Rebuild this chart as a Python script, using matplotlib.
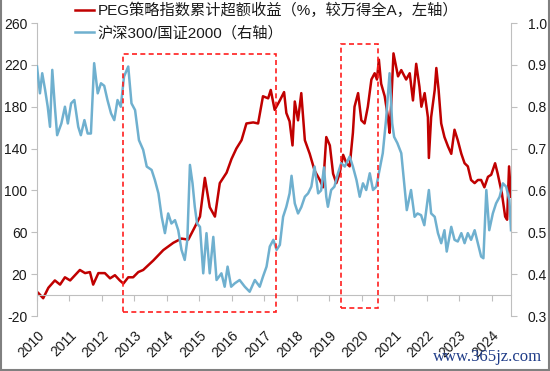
import matplotlib
matplotlib.use('Agg')
import matplotlib.pyplot as plt
from matplotlib.patches import Rectangle
from matplotlib.lines import Line2D

plt.rcParams['font.family'] = ['Liberation Sans', 'Noto Sans CJK SC', 'DejaVu Sans']

# ---------------- data ----------------
red_label = 'PEG策略指数累计超额收益（%，较万得全A，左轴）'
blue_label = '沪深300/国证2000（右轴）'

red_years = [2010.04, 2010.19, 2010.35, 2010.55, 2010.71, 2010.86, 2011.02, 2011.17, 2011.32, 2011.48,
             2011.63, 2011.73, 2011.89, 2012.09, 2012.25, 2012.40, 2012.55, 2012.66, 2012.81, 2012.96,
             2013.12, 2013.27, 2013.58, 2013.89, 2014.20, 2014.45, 2014.66, 2014.86, 2015.02, 2015.17,
             2015.32, 2015.48, 2015.63, 2015.84, 2015.99, 2016.14, 2016.30, 2016.45, 2016.66, 2016.81,
             2016.96, 2017.12, 2017.20, 2017.32, 2017.48, 2017.61, 2017.68, 2017.78, 2017.87, 2017.94,
             2018.04, 2018.14, 2018.25, 2018.40, 2018.55, 2018.71, 2018.81, 2018.91, 2019.02, 2019.12,
             2019.22, 2019.32, 2019.43, 2019.53, 2019.63, 2019.73, 2019.78, 2019.89, 2019.99, 2020.09,
             2020.19, 2020.30, 2020.40, 2020.47, 2020.53, 2020.60, 2020.71, 2020.81, 2020.86, 2020.91,
             2020.98, 2021.12, 2021.22, 2021.37, 2021.48, 2021.58, 2021.68, 2021.78, 2021.84, 2021.94,
             2022.04, 2022.07, 2022.14, 2022.25, 2022.30, 2022.37, 2022.45, 2022.55, 2022.66, 2022.76,
             2022.86, 2022.96, 2023.07, 2023.17, 2023.27, 2023.37, 2023.48, 2023.58, 2023.68, 2023.78,
             2023.89, 2023.99, 2024.11, 2024.19, 2024.32, 2024.42, 2024.48, 2024.54, 2024.60]
red_values = [2, -3, 7, 14, 10, 17, 14, 19, 24, 21,
              22, 10, 21, 21, 16, 19, 14, 11, 17, 17,
              22, 24, 33, 43, 50, 54, 53, 65, 75, 112,
              84, 75, 107, 117, 130, 140, 148, 164, 165, 164,
              190, 188, 196, 177, 186, 194, 174, 166, 143, 185,
              167, 193, 148, 135, 119, 110, 103, 151, 143, 116,
              107, 116, 134, 126, 123, 155, 180, 193, 167, 164,
              180, 206, 212, 206, 225, 202, 190, 170, 155, 183,
              231, 209, 215, 206, 212, 186, 221, 199, 180, 193,
              170, 131, 170, 196, 217, 196, 164, 151, 142, 135,
              158, 148, 135, 126, 123, 110, 107, 110, 110, 103,
              113, 115, 126, 116, 97, 75, 72, 123, 94]

blue_years = [2010.00, 2010.09, 2010.16, 2010.25, 2010.33, 2010.40, 2010.47, 2010.55, 2010.62, 2010.75,
              2010.86, 2010.95, 2011.05, 2011.15, 2011.27, 2011.35, 2011.46, 2011.56, 2011.66, 2011.76,
              2011.87, 2011.97, 2012.07, 2012.17, 2012.28, 2012.38, 2012.48, 2012.58, 2012.68, 2012.81,
              2012.91, 2013.02, 2013.14, 2013.27, 2013.38, 2013.53, 2013.63, 2013.74, 2013.84, 2013.94,
              2014.04, 2014.14, 2014.25, 2014.35, 2014.45, 2014.55, 2014.63, 2014.71, 2014.79, 2014.86,
              2014.93, 2015.02, 2015.12, 2015.22, 2015.32, 2015.43, 2015.53, 2015.68, 2015.78, 2015.87,
              2015.98, 2016.09, 2016.24, 2016.40, 2016.55, 2016.71, 2016.86, 2016.96, 2017.07, 2017.17,
              2017.28, 2017.38, 2017.48, 2017.58, 2017.68, 2017.78, 2017.84, 2017.94, 2018.04, 2018.14,
              2018.25, 2018.35, 2018.45, 2018.55, 2018.66, 2018.75, 2018.84, 2018.91, 2018.96, 2019.06,
              2019.16, 2019.27, 2019.37, 2019.48, 2019.63, 2019.73, 2019.84, 2019.94, 2020.04, 2020.14,
              2020.25, 2020.35, 2020.45, 2020.55, 2020.65, 2020.75, 2020.86, 2020.94, 2021.00, 2021.10,
              2021.22, 2021.32, 2021.39, 2021.52, 2021.63, 2021.72, 2021.83, 2021.93, 2022.07, 2022.14,
              2022.25, 2022.35, 2022.45, 2022.55, 2022.62, 2022.76, 2022.86, 2022.96, 2023.07, 2023.17,
              2023.27, 2023.37, 2023.48, 2023.58, 2023.68, 2023.75, 2023.84, 2023.93, 2024.04, 2024.14,
              2024.25, 2024.35, 2024.45, 2024.55, 2024.60]
blue_values = [0.896, 0.832, 0.880, 0.840, 0.800, 0.752, 0.888, 0.800, 0.732, 0.760,
               0.800, 0.760, 0.808, 0.816, 0.752, 0.732, 0.768, 0.736, 0.736, 0.904,
               0.832, 0.856, 0.850, 0.816, 0.784, 0.768, 0.816, 0.800, 0.872, 0.896,
               0.808, 0.792, 0.720, 0.697, 0.657, 0.649, 0.625, 0.593, 0.537, 0.498,
               0.545, 0.521, 0.529, 0.505, 0.458, 0.434, 0.482, 0.661, 0.617, 0.561,
               0.521, 0.513, 0.402, 0.498, 0.402, 0.489, 0.386, 0.402, 0.370, 0.418,
               0.370, 0.378, 0.386, 0.370, 0.358, 0.386, 0.370, 0.394, 0.418, 0.466,
               0.482, 0.458, 0.470, 0.537, 0.561, 0.593, 0.635, 0.569, 0.545, 0.560,
               0.585, 0.593, 0.609, 0.657, 0.593, 0.600, 0.655, 0.585, 0.561, 0.601,
               0.609, 0.641, 0.665, 0.657, 0.681, 0.657, 0.625, 0.585, 0.617, 0.601,
               0.641, 0.601, 0.609, 0.649, 0.689, 0.768, 0.880, 0.760, 0.728, 0.713,
               0.689, 0.609, 0.553, 0.601, 0.537, 0.545, 0.541, 0.517, 0.601, 0.545,
               0.537, 0.498, 0.474, 0.505, 0.454, 0.513, 0.482, 0.478, 0.498, 0.474,
               0.498, 0.482, 0.505, 0.474, 0.442, 0.438, 0.601, 0.505, 0.545, 0.569,
               0.585, 0.617, 0.609, 0.577, 0.505]

year_ticks = list(range(2010, 2025))
year_labels = [str(y) for y in year_ticks]
left_ticks = [-20, 20, 60, 100, 140, 180, 220, 260]
left_labels = ['-20', '20', '60', '100', '140', '180', '220', '260']
right_ticks = [0.3, 0.4, 0.5, 0.6, 0.7, 0.8, 0.9, 1.0]
right_labels = ['0.3', '0.4', '0.5', '0.6', '0.7', '0.8', '0.9', '1.0']

# highlighted periods: (x start, x end, y bottom, y top) in left-axis units
box_x0 = [2012.65, 2019.37]
box_x1 = [2017.35, 2020.50]
box_y0 = [-16, -12]
box_y1 = [230, 240]

# ---------------- style ----------------
RED = '#C00000'
BLUE = '#6FB0CF'
GRID = '#BFBFBF'
TXT = '#1a1a1a'

fig = plt.figure(figsize=(5.5, 3.71), dpi=100)
ax = fig.add_axes([0.0673, 0.1482, 0.8618, 0.7898])

l1, = ax.plot(red_years, red_values, color=RED, lw=1.8, solid_joinstyle='round')
ax.set_xlim(2010, 2024.6)
ax.set_ylim(-20, 260)
ax.set_yticks(left_ticks)
ax.set_yticklabels(left_labels)
for s in ['top', 'right']:
    ax.spines[s].set_visible(False)
ax.spines['left'].set_color(GRID)
ax.spines['bottom'].set_color(GRID)
ax.spines['bottom'].set_position(('data', 0))
ax.set_xticks(year_ticks)
ax.tick_params(axis='x', length=4, color=GRID, labelbottom=False, direction='out')
ax.tick_params(axis='y', length=4, color=GRID, labelsize=10, labelcolor=TXT, pad=3)

sec = ax.secondary_xaxis('bottom')
sec.set_xticks(year_ticks)
sec.set_xticklabels(year_labels, rotation=45, ha='right', rotation_mode='anchor',
                    fontsize=10, color=TXT)
sec.tick_params(length=0, pad=9)
sec.spines['bottom'].set_visible(False)

ax2 = ax.twinx()
l2, = ax2.plot(blue_years, blue_values, color=BLUE, lw=1.8, solid_joinstyle='round')
ax2.set_ylim(0.3, 1.0)
ax2.set_yticks(right_ticks)
ax2.set_yticklabels(right_labels)
for s in ['top', 'left', 'bottom']:
    ax2.spines[s].set_visible(False)
ax2.spines['right'].set_color(GRID)
ax2.tick_params(axis='y', length=4, color=GRID, labelsize=10, labelcolor=TXT, pad=8)

for x0, x1, y0, y1 in zip(box_x0, box_x1, box_y0, box_y1):
    ax2.add_patch(Rectangle((x0, y0), x1 - x0, y1 - y0, transform=ax.transData,
                            fill=False, edgecolor='#FF1F1F', lw=1.2,
                            linestyle=(0, (3, 2)), clip_on=False, zorder=5))

fig.legend([l1, l2], [red_label, blue_label], loc='upper left',
           bbox_to_anchor=(75 / 550, 1 - 3 / 371), borderaxespad=0, borderpad=0,
           handlelength=1.25, handletextpad=0.25, labelspacing=0.5,
           frameon=False, fontsize=11, labelcolor=TXT)

fig.text(0.985, 0.026, 'www.365jz.com', ha='right', va='baseline',
         family=['Liberation Serif', 'DejaVu Serif'], color='#1F3C88', fontsize=12)

for xs, ys in [([0.001, 0.001], [0, 1]), ([0.999, 0.999], [0, 1]), ([0, 1], [0.002, 0.002])]:
    fig.add_artist(Line2D(xs, ys, transform=fig.transFigure, color='#808080', lw=1.5))

fig.savefig('out.png', dpi=100)
